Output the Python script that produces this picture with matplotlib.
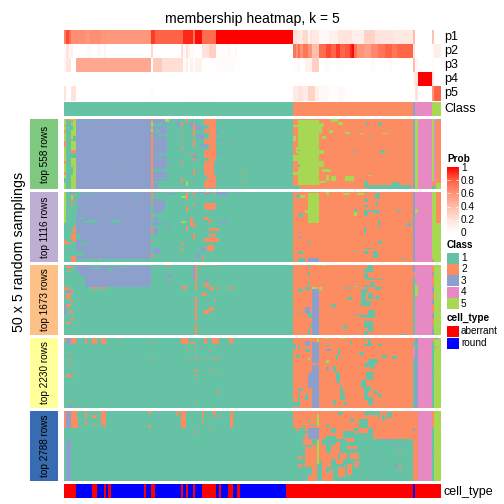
import matplotlib
matplotlib.use('Agg')
import numpy as np, matplotlib.pyplot as plt
from matplotlib.colors import LinearSegmentedColormap, ListedColormap
from matplotlib.patches import Rectangle

plt.rcParams['font.family'] = ['Liberation Sans', 'DejaVu Sans']

N_COL = 161
N_ROW = 50

set2 = ['#66C2A5', '#FC8D62', '#8DA0CB', '#E78AC3', '#A6D854']
strip_colors = ['#7FC97F', '#BEAED4', '#FDC086', '#FFFF99', '#386CB0']
strip_labels = ['top 558 rows', 'top 1116 rows', 'top 1673 rows', 'top 2230 rows', 'top 2788 rows']
prob_ticks = [1, 0.8, 0.6, 0.4, 0.2, 0]
prob_tick_labels = ['1', '0.8', '0.6', '0.4', '0.2', '0']

# runs of (value, number of columns)
p1_runs = [(.68,1),(.85,1),(.75,1),(.62,6),(.58,2),(.62,5),(.58,1),(.6,1),(.58,19),
           (.88,2),(.8,12),(.92,4),(.72,1),(.97,3),(.75,6),(1,33),
           (.2,2),(.15,2),(.25,2),(.05,1),(.2,1),(.15,3),(.05,4),(.1,4),(.18,6),(.12,5),(.28,5),(.18,8),(.15,8),
           (.4,1),(0,7),(.36,1),(0,3)]
p2_runs = [(.05,1),(.18,1),(.05,1),(.12,1),(0,6),(.04,2),(0,2),(.05,2),(0,1),(.08,1),(0,19),
           (.25,1),(0,12),(.22,1),(.05,1),(.2,1),(.1,1),(.03,2),(0,3),(.2,3),(.3,3),
           (.02,5),(.06,1),(.02,2),(.05,1),(0,24),
           (.72,1),(.6,1),(.75,1),(.6,1),(.72,2),(.6,2),(.38,3),(.75,3),(.85,2),(.78,2),(.88,2),(.78,2),(.82,2),(.92,1),(.98,1),
           (.72,1),(.6,3),(.55,3),(.65,3),(.72,3),(.8,3),(.72,2),(.78,7),
           (.2,1),(0,7),(.02,1),(.12,3)]
p3_runs = [(.06,1),(.18,2),(0,2),(.5,32),(0,1),(.33,4),(.22,9),(.03,1),(.12,1),(.02,1),(.1,1),(.02,1),(.1,3),(.01,6),(.03,8),(0,25),
           (.02,2),(.05,1),(0,2),(.1,1),(.1,2),(.3,3),(0,2),(.03,2),(0,3),(.02,3),(0,12),(.03,2),(0,6),(.03,1),(0,9),
           (.4,1),(.08,1),(0,6),(.04,1),(0,3)]
p4_runs = [(0,149),(.1,1),(.2,1),(1,6),(.2,1),(0,3)]
p5_runs = [(.2,1),(0,2),(.2,2),(0,32),(.03,1),(0,13),(.01,14),(0,33),
           (.14,2),(.2,2),(.14,2),(.28,3),(.12,2),(.05,4),(.02,4),(.05,3),(.01,4),(0,25),
           (0,1),(.2,1),(0,6),(.6,1),(.8,3)]

class_runs = [(1,98),(2,51),(3,1),(4,7),(5,4)]
cell_type_runs = [(0,5),(1,7),(0,2),(1,3),(0,1),(1,1),(0,1),(1,14),(0,1),(1,2),(0,2),(1,11),(0,1),(1,1),(0,1),(1,2),(0,1),
                  (1,3),(0,6),(1,1),(0,1),(1,3),(0,2),(1,2),(0,1),(1,20),(0,54),(1,1),(0,11)]

# base column classes of each panel
base_runs = [
    [(5,1),(1,2),(5,2),(3,32),(2,1),(3,6),(1,54),(2,51),(3,1),(5,1),(4,6),(5,1),(4,1),(2,2)],
    [(1,5),(3,32),(1,61),(2,51),(3,1),(4,7),(5,2),(2,2)],
    [(1,98),(2,51),(1,1),(4,7),(2,1),(5,3)],
    [(1,98),(2,51),(1,1),(3,1),(4,6),(1,1),(5,3)],
    [(1,98),(2,51),(2,2),(4,6),(1,1),(5,3)],
]

# corrections: (class, col from, col to, row from, row to), ends excluded
p1_patches = [
    (2,0,1,8,10),(2,0,1,16,20),(2,0,1,30,32),(2,0,1,38,40),(1,0,1,42,46),(2,0,1,4,5),
    (2,1,3,0,1),(2,3,4,1,3),(1,3,4,4,8),(1,4,5,12,16),(1,3,5,24,28),(2,3,5,22,24),(1,3,4,34,40),(2,3,4,14,16),
    (1,13,14,1,2),(1,22,23,38,39),(5,37,38,2,6),(5,37,38,7,9),(2,37,38,0,1),(1,37,38,9,10),
    (5,43,45,0,2),(1,38,42,3,5),(1,39,41,8,10),(1,38,40,12,13),(1,42,45,4,6),(1,40,44,11,12),(1,44,46,8,9),
    (1,42,45,24,26),(1,40,42,25,27),(1,44,46,27,28),(1,38,41,36,38),(1,42,46,36,38),(1,38,44,44,46),(1,41,45,42,43),(1,40,46,46,50),
    (3,46,50,0,1),(3,48,50,3,5),(2,50,51,2,5),(2,50,51,8,9),(2,50,51,14,16),(2,50,51,20,22),(2,50,51,30,32),(2,50,51,42,46),
    (5,52,53,44,48),(2,52,53,0,3),(2,53,54,24,26),(2,55,56,3,12),(2,55,56,14,20),(2,55,56,24,30),(2,55,56,36,40),
    (3,54,55,2,6),(3,56,59,4,8),(3,57,60,11,14),(3,58,61,18,20),(3,55,57,26,28),(3,60,61,32,36),
    (2,60,65,0,4),(2,62,65,4,30),(2,60,62,7,10),(2,60,62,14,18),(2,60,63,22,28),(2,60,64,30,40),(2,61,65,40,44),(2,60,65,44,49),
    (3,65,66,8,10),(3,66,68,14,16),(3,65,67,24,26),(3,65,67,34,36),(3,65,66,44,46),(2,76,77,38,39),(2,76,77,44,46),(3,71,72,16,17),(3,48,49,3,4),
    # class 2 side
    (5,100,109,1,47),(5,98,100,4,6),(5,98,99,12,16),(5,99,100,20,24),(5,98,100,26,30),(5,98,100,38,40),(2,106,108,0,1),(5,109,111,3,6),
    (5,109,110,6,10),(5,110,112,12,14),(5,109,111,22,25),(5,109,111,30,34),(5,110,114,36,38),(5,112,113,40,44),(5,114,116,41,44),(5,108,112,44,46),
    (5,117,119,2,4),(5,114,117,0,2),(5,113,115,8,10),(5,120,122,9,11),(5,126,128,10,11),(1,129,130,2,4),(1,134,136,3,5),(5,136,139,10,11),
    (1,123,125,22,23),(1,130,131,12,13),(1,135,137,22,24),(3,100,101,22,23),(3,100,101,33,34),
    (1,128,130,44,49),(1,130,148,47,50),(1,140,143,45,48),(1,132,134,48,50),(1,98,101,48,50),(5,120,124,41,44),(5,130,131,40,41),
    (5,150,151,0,24),(5,150,151,26,36),(5,157,158,0,12),(5,157,158,20,36),(2,157,158,44,46),(5,158,161,46,50),(2,157,159,46,48),
    (1,159,161,0,1),(1,157,159,48,50),
]
p2_patches = [
    (5,0,1,0,22),(2,0,1,34,38),(2,3,5,2,3),(5,3,4,3,5),(2,3,4,5,7),(2,3,4,8,10),(2,4,5,24,36),(2,3,4,30,34),(2,1,3,36,37),(2,3,5,46,50),(3,2,5,0,1),
    (1,5,7,0,4),(1,11,13,0,1),(1,18,19,0,1),(1,30,32,0,1),(1,8,10,1,2),(1,9,14,20,22),(1,20,24,20,22),(1,6,9,18,19),(1,5,8,42,46),(1,7,10,36,38),
    (1,5,7,30,34),(1,5,6,8,14),(1,14,15,44,46),(4,15,16,47,49),(1,5,37,48,50),(1,30,31,4,5),
    (2,37,38,0,3),(2,37,38,5,8),(2,37,38,16,18),(2,37,38,25,29),(2,37,38,34,36),(2,37,38,44,47),(3,38,42,0,1),
    (3,38,42,5,15),(3,42,43,6,12),(3,44,47,1,2),(3,38,40,18,24),(3,39,44,22,23),(3,38,40,26,30),(3,44,46,24,26),(3,38,41,40,44),
    (5,50,52,3,4),(5,50,52,21,22),(2,50,51,36,38),(2,52,53,0,6),(2,52,53,10,14),(2,52,53,24,28),(2,54,55,18,24),(2,55,56,0,3),(2,55,56,8,10),(2,55,56,22,26),(2,55,56,30,34),(2,50,51,40,42),
    (3,56,70,0,1),(3,65,70,0,2),(3,60,62,0,2),(3,73,76,0,1),(2,60,62,0,1),(2,63,65,0,1),(2,60,65,8,12),(2,61,64,11,13),(2,60,62,18,20),(2,62,63,20,22),
    (2,62,66,26,28),(2,62,65,30,32),(2,60,66,33,36),(2,61,64,38,42),(3,66,70,21,22),(2,59,60,46,48),(3,58,61,40,42),(3,56,58,44,47),
    # class 2 side
    (5,104,109,1,22),(5,100,103,2,4),(1,99,101,2,4),(5,103,105,13,15),(3,101,102,14,15),(1,100,102,16,18),(1,104,108,47,50),(3,104,109,47,50),(1,100,103,47,50),(3,100,101,28,29),(3,100,102,32,33),
    (5,112,113,0,2),(5,119,122,1,2),(5,125,128,1,2),(1,129,130,0,1),(1,128,130,5,7),(1,124,125,12,14),(5,124,125,14,17),
    (1,128,132,13,14),(1,132,135,13,15),(1,142,144,13,14),(1,128,130,14,17),(1,133,135,1,5),(1,133,134,8,10),(1,128,130,9,11),(1,149,150,18,20),
    (1,134,135,20,25),(1,128,129,25,30),(1,134,136,35,37),(1,128,132,40,41),(1,132,134,42,47),(1,128,130,42,44),(1,146,148,22,24),(3,147,148,23,24),(1,100,102,42,44),(1,104,105,35,37),
    (1,124,125,42,43),(1,144,146,47,48),(5,150,151,12,15),(2,159,161,0,22),(5,159,161,22,50),(2,157,158,35,37),(5,157,159,0,50),(2,157,158,48,50),(3,157,158,49,50),
]
p3_patches = [
    (3,9,37,1,16),(3,5,9,0,6),(3,7,9,6,8),(1,5,6,4,6),(2,1,4,1,2),(2,1,3,4,5),(2,0,2,16,18),(2,1,3,20,24),(2,3,4,17,20),(2,3,4,25,27),(2,1,3,28,30),
    (3,0,1,28,36),(2,2,4,32,34),(2,1,3,41,42),(2,3,4,37,40),(3,1,3,18,20),(1,13,15,1,3),(1,19,21,2,4),(1,25,27,0,2),
    (2,12,14,16,17),(2,16,18,16,17),(3,44,46,7,10),(3,44,45,13,15),(2,44,45,0,2),(2,50,53,15,16),(2,51,52,16,18),
    (3,55,56,0,11),(2,56,57,0,18),(2,56,57,22,50),(1,56,57,12,13),(1,56,57,40,42),(2,58,60,0,1),(2,60,62,13,16),(2,62,64,16,18),(2,65,66,16,17),(2,70,72,16,17),
    (2,60,61,20,22),(3,60,61,10,12),(2,64,65,0,1),(2,60,62,32,35),(2,62,64,30,33),(2,64,65,24,26),(2,59,60,20,22),
    # class 2 side
    (5,108,109,0,1),(5,110,112,0,1),(1,104,105,0,2),(1,104,105,5,8),(1,104,105,12,14),(3,106,109,17,50),(1,103,105,16,18),(1,100,102,17,19),(5,106,108,16,17),(1,104,105,32,33),
    (3,103,105,30,35),(1,104,106,34,38),(1,100,102,34,35),(1,105,106,42,44),(1,104,105,46,50),(5,109,110,16,18),(1,124,125,14,16),(1,120,122,16,17),(1,114,116,28,30),
    (1,121,123,23,25),(5,124,125,15,16),(1,126,128,36,37),(1,124,126,35,36),(1,119,121,43,46),(1,128,132,2,5),(1,130,132,0,3),(1,128,130,6,9),(1,129,133,9,11),(1,131,133,12,16),
    (1,128,131,14,16),(1,127,130,17,20),(1,127,129,20,26),(1,130,132,20,24),(1,133,135,16,18),(1,133,135,22,24),(1,127,131,26,29),(1,130,133,32,38),(1,128,132,36,38),(1,128,132,40,45),
    (1,130,132,45,48),(1,128,130,47,50),(1,134,137,10,11),(1,134,136,16,17),(1,144,146,49,50),
    (3,149,150,0,5),(2,149,150,5,8),(5,150,151,14,22),(5,157,158,0,1),(3,157,158,5,7),(3,157,158,16,20),(3,157,158,24,28),(2,157,158,28,30),(3,157,158,34,38),(1,157,158,42,44),(3,157,158,46,50),(4,150,152,36,38),(4,150,152,42,44),
]
p4_patches = [
    (3,1,3,0,4),(2,3,5,0,4),(2,0,1,0,2),(2,1,3,15,16),(2,2,3,10,11),(2,3,4,17,18),(2,1,3,26,28),(2,3,4,25,26),(2,2,3,20,21),(2,2,4,27,28),(2,2,3,45,46),(3,2,4,48,50),
    (2,9,10,0,4),(2,12,14,0,4),(2,16,18,0,4),(2,23,24,0,1),(2,37,38,15,16),(2,37,38,2,3),(2,50,53,0,4),(2,53,54,2,3),(2,52,53,8,9),(2,54,56,3,4),(2,56,57,6,7),(2,56,57,13,15),
    (2,56,57,22,24),(2,56,57,26,27),(2,56,57,29,30),(2,53,54,15,16),(2,60,61,0,4),(2,60,61,15,16),(2,63,66,0,4),(2,63,66,15,16),(2,71,72,0,4),(2,62,63,9,10),(2,62,63,22,23),(2,65,66,24,25),(2,65,66,38,39),(2,56,57,45,46),(2,70,71,0,2),
    # class 2 side
    (5,108,109,0,3),(3,106,109,3,50),(2,106,109,18,19),(1,98,99,4,8),(1,99,101,12,14),(1,100,101,5,8),(1,100,102,36,38),(1,103,105,8,10),(3,103,105,2,6),(3,104,106,24,36),(1,100,101,40,49),(1,103,104,40,44),(1,98,100,46,49),
    (5,104,105,14,16),(2,104,105,24,26),(5,111,113,0,1),(5,118,120,0,1),(1,112,114,5,6),(3,112,114,8,9),(5,112,113,16,18),(3,112,113,21,23),(1,115,116,20,24),(1,117,118,8,12),(1,116,117,12,16),
    (1,116,118,24,32),(1,118,119,34,40),(1,118,120,40,44),(1,115,116,44,48),(1,119,121,46,48),(1,122,123,2,4),(1,128,129,0,2),(1,130,131,1,4),(1,128,132,4,6),(1,134,136,4,6),(1,126,128,10,12),(1,130,134,15,18),
    (1,131,133,18,22),(1,128,131,18,21),(1,129,132,24,30),(1,127,129,30,36),(1,128,131,34,38),(1,128,130,38,44),(1,130,132,42,48),(1,132,134,38,40),(1,134,136,40,42),(1,136,138,12,14),(1,140,142,13,15),
    (3,150,151,0,4),(3,150,151,8,14),(2,149,150,0,3),(3,149,151,16,18),(1,150,151,18,20),(1,150,151,4,8),(4,149,150,6,14),(3,157,160,0,1),(4,158,159,6,7),(4,158,159,24,25),(2,157,158,0,3),(1,149,150,20,32),(1,149,150,36,50),
]
p5_patches = [
    (2,0,1,0,12),(3,1,3,0,12),(2,3,5,0,12),(3,1,3,20,50),(2,5,6,0,2),(2,5,6,4,12),(2,9,10,0,5),(2,9,10,7,10),(2,12,14,3,5),(2,12,14,9,10),(2,16,18,0,5),(2,16,18,5,10),(2,17,18,11,12),
    (2,36,37,0,2),(2,36,37,10,12),(2,48,49,0,3),(2,50,52,0,12),(2,55,56,14,16),(2,59,60,0,3),(2,59,60,3,5),(2,59,60,7,9),(2,63,65,0,2),(2,64,65,2,3),(2,66,67,3,4),(2,63,64,4,6),(2,71,72,0,12),(2,72,73,4,5),
    (2,62,63,12,13),
    # class 2 side and the lower rows
    (5,108,109,2,11),(3,104,109,12,20),(1,98,103,12,20),(1,103,104,14,16),(1,105,108,10,11),(1,104,105,6,8),(1,102,103,10,12),(3,99,100,0,1),(2,99,101,13,14),
    (1,112,113,10,12),(1,114,116,12,16),(1,117,119,1,3),(1,128,130,0,3),(1,122,124,6,8),(1,130,134,0,3),(1,136,137,3,7),(1,134,135,0,5),(1,138,140,1,5),(1,126,130,6,12),(1,124,126,12,14),
    (1,119,124,14,19),(1,112,116,18,20),(1,124,130,16,20),(1,130,132,12,20),
    (1,98,149,20,50),(2,106,108,24,50),(2,108,110,20,28),(5,108,109,21,38),(2,109,112,24,36),(2,112,114,30,40),(2,113,115,42,50),(2,116,118,22,30),(2,116,119,34,38),(2,117,120,40,47),(2,103,106,26,40),(2,104,106,46,50),
    (2,110,113,44,50),(2,121,124,20,22),(2,121,125,25,27),(2,122,126,30,34),(2,124,126,36,40),(2,121,123,38,46),(1,115,116,31,33),(2,100,102,32,34),(2,100,102,38,40),(3,102,103,47,49),(2,107,108,38,40),
    (2,102,106,20,24),(2,110,112,36,44),(2,114,117,24,34),(2,118,121,30,34),
    (3,132,133,28,29),(3,136,139,20,21),(3,139,141,20,21),(3,132,133,40,41),(3,141,142,38,40),(3,141,143,25,26),(2,143,144,29,31),(2,143,144,39,42),
    (3,149,150,12,14),(2,149,150,14,50),(2,157,158,0,12),(4,158,159,30,31),(4,149,151,0,1),
]
panel_patches = [p1_patches, p2_patches, p3_patches, p4_patches, p5_patches]


def expand(runs):
    out = np.repeat([r[0] for r in runs], [r[1] for r in runs])
    assert len(out) == N_COL, len(out)
    return out


def ax_at(x0, y0, x1, y1):
    # pixel box, y measured from the top of the image
    ax = fig.add_axes([x0 / 504, 1 - y1 / 504, (x1 - x0) / 504, (y1 - y0) / 504])
    ax.set_axis_off()
    return ax


def txt(x, y, s, **kw):
    fig.text(x / 504, 1 - y / 504, s, va='center', **kw)


def show(ax, arr, cmap, vmin, vmax):
    ax.imshow(arr, aspect='auto', interpolation='nearest', cmap=cmap, vmin=vmin, vmax=vmax)


prob_cmap = LinearSegmentedColormap.from_list('prob', [(0, '#FFFFFF'), (.2, '#FFE3DA'), (.4, '#FFBCA8'),
                                                       (.6, '#FF9479'), (.8, '#FF6244'), (1, '#FF0000')])
class_cmap = ListedColormap(set2)
cell_cmap = ListedColormap(['#FF0000', '#0000FF'])

fig = plt.figure(figsize=(7, 7), dpi=72)
X0, X1 = 64, 441

txt(252.5, 19, 'membership heatmap, k = 5', ha='center', fontsize=14)

# probability rows on top
p_tops = [30, 44, 58, 72, 86]
p_runs = [p1_runs, p2_runs, p3_runs, p4_runs, p5_runs]
for i in range(5):
    ax = ax_at(X0, p_tops[i], X1, p_tops[i] + 14.6)
    show(ax, expand(p_runs[i])[None, :], prob_cmap, 0, 1)
    txt(444.5, p_tops[i] + 7, 'p%d' % (i + 1), ha='left', fontsize=12.5)

ax = ax_at(X0, 102, X1, 116)
show(ax, expand(class_runs)[None, :], class_cmap, 1, 5)
txt(444.5, 109, 'Class', ha='left', fontsize=12.5)

# the five consensus panels
panel_tops = [119, 192, 265, 338, 411]
for i, top in enumerate(panel_tops):
    mat = np.tile(expand(base_runs[i]), (N_ROW, 1))
    for c, c0, c1, r0, r1 in panel_patches[i]:
        mat[r0:r1, c0:c1] = c
    ax = ax_at(X0, top, X1, top + 70)
    show(ax, mat, class_cmap, 1, 5)
    strip = ax_at(30, top, 58, top + 70)
    strip.add_patch(Rectangle((0, 0), 1, 1, color=strip_colors[i], transform=strip.transAxes))
    txt(45, top + 35, strip_labels[i], ha='center', rotation=90, fontsize=10)

txt(19, 252, '50 x 5 random samplings', ha='center', rotation=90, fontsize=14.3)

ax = ax_at(X0, 484, X1, 498)
show(ax, expand(cell_type_runs)[None, :], cell_cmap, 0, 1)
txt(444, 492, 'cell_type', ha='left', fontsize=12.5)

# legends
txt(447, 159, 'Prob', ha='left', fontsize=10, fontweight='bold')
cb = ax_at(447, 167, 459, 233)
cb.imshow(np.array(prob_ticks)[:, None], aspect='auto', interpolation='bilinear', cmap=prob_cmap, vmin=0, vmax=1)
cb.set_xlim(-.5, .5)
cb.set_ylim(5, 0)
for j, v in enumerate(prob_tick_labels):
    y = 168.5 + j * 12.9
    txt(461, y, v, ha='left', fontsize=10)
    if 0 < j < 5:
        cb.plot([-.5, -.28], [j, j], color='white', lw=.6)
        cb.plot([.28, .5], [j, j], color='white', lw=.6)

txt(447, 245, 'Class', ha='left', fontsize=10, fontweight='bold')
for j in range(5):
    top = 252.5 + j * 11.4
    sw = ax_at(447, top, 459, top + 11)
    sw.add_patch(Rectangle((0, 0), 1, 1, color=set2[j], transform=sw.transAxes))
    txt(461, top + 5.5, str(j + 1), ha='left', fontsize=10)

txt(447, 318, 'cell_type', ha='left', fontsize=10, fontweight='bold')
for j, (name, col) in enumerate([('aberrant', '#FF0000'), ('round', '#0000FF')]):
    top = 326 + j * 11.5
    sw = ax_at(447, top, 459, top + 11)
    sw.add_patch(Rectangle((0, 0), 1, 1, color=col, transform=sw.transAxes))
    txt(461, top + 5.5, name, ha='left', fontsize=10)

plt.savefig('out.png', dpi=72)
plt.close()
